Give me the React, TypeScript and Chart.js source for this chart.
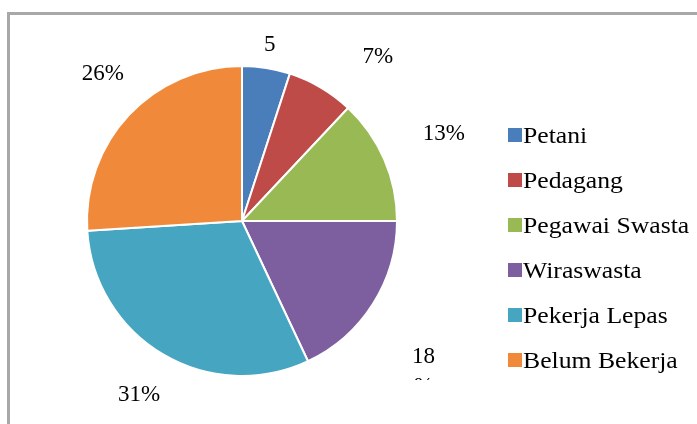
import React, { useEffect, useRef } from "react";
import { Chart, registerables } from "chart.js";

Chart.register(...registerables);

// ---- data ----
const categories = ["Petani", "Pedagang", "Pegawai Swasta", "Wiraswasta", "Pekerja Lepas", "Belum Bekerja"];
const percentages = [5, 7, 13, 18, 31, 26];

// ---- styles ----
const sliceColors = ["#4A7EBB", "#BE4B48", "#98B954", "#7D5FA0", "#46A5C0", "#F08A3A"];
// how the data label is shown: full "x%", number only (the % line hidden), or wrapped with clipped 2nd line
const labelMode = ["numOnly", "full", "full", "wrapClipped", "full", "full"];
const labelExtra = [23, 45, 65, 60, 47, 47];
const labelNudge: [number, number][] = [
  [0, 0],
  [34, 8],
  [0, 0],
  [0, 21],
  [0, 0],
  [8, -9],
];
const FONT = "'Liberation Serif', 'Times New Roman', serif";

const labelPlugin = {
  id: "sliceLabels",
  afterDatasetsDraw(chart: any) {
    const ctx = chart.ctx as CanvasRenderingContext2D;
    const meta = chart.getDatasetMeta(0);
    const clipBottom = 380;
    ctx.save();
    ctx.fillStyle = "#000";
    ctx.font = `23px ${FONT}`;
    ctx.textAlign = "center";
    ctx.textBaseline = "middle";
    meta.data.forEach((arc: any, i: number) => {
      const p = arc.getProps(["x", "y", "startAngle", "endAngle", "outerRadius"], true);
      const mid = (p.startAngle + p.endAngle) / 2;
      const d = p.outerRadius + labelExtra[i];
      const x = p.x + Math.cos(mid) * d + labelNudge[i][0];
      const y = p.y + Math.sin(mid) * d + labelNudge[i][1];
      const v = String(percentages[i]);
      const mode = labelMode[i];
      if (mode === "full") {
        ctx.fillText(v + "%", x, y);
      } else if (mode === "numOnly") {
        ctx.fillText(v, x, y);
      } else {
        ctx.fillText(v, x, y);
        ctx.save();
        ctx.beginPath();
        ctx.rect(0, 0, chart.width, clipBottom);
        ctx.clip();
        ctx.fillText("%", x, y + 30);
        ctx.restore();
      }
    });
    ctx.restore();
  },
};

const legendPlugin = {
  id: "customLegend",
  afterDraw(chart: any) {
    const ctx = chart.ctx as CanvasRenderingContext2D;
    const labels = chart.data.labels as string[];
    const colors = chart.data.datasets[0].backgroundColor as string[];
    const boxX = 508;
    const textX = 523;
    const firstBaseline = 143;
    const step = 45;
    ctx.save();
    ctx.font = `24px ${FONT}`;
    ctx.textAlign = "left";
    ctx.textBaseline = "alphabetic";
    labels.forEach((lab, i) => {
      const base = firstBaseline + i * step;
      ctx.fillStyle = colors[i];
      ctx.fillRect(boxX, base - 15, 14, 14);
      ctx.fillStyle = "#000";
      ctx.save();
      ctx.translate(textX, base);
      ctx.scale(1.07, 1);
      ctx.fillText(lab, 0, 0);
      ctx.restore();
    });
    ctx.restore();
  },
};

export default function App() {
  const canvasRef = useRef<HTMLCanvasElement | null>(null);

  useEffect(() => {
    if (!canvasRef.current) return;
    const chart = new Chart(canvasRef.current, {
      type: "pie",
      data: {
        labels: categories,
        datasets: [
          {
            data: percentages,
            backgroundColor: sliceColors,
            borderColor: "#ffffff",
            borderWidth: 2,
          },
        ],
      },
      options: {
        animation: false,
        responsive: false,
        maintainAspectRatio: false,
        layout: { padding: { left: 86, top: 65, right: 299, bottom: 47 } },
        plugins: {
          legend: { display: false },
          tooltip: { enabled: false },
        },
      },
      plugins: [labelPlugin, legendPlugin],
    });
    return () => chart.destroy();
  }, []);

  return (
    <div
      style={{
        position: "fixed",
        left: 0,
        top: 0,
        width: 697,
        height: 424,
        background: "#ffffff",
        overflow: "hidden",
      }}
    >
      <div
        style={{
          position: "absolute",
          left: 7,
          top: 12,
          width: 720,
          height: 440,
          borderLeft: "3px solid #a8a8a8",
          borderTop: "3px solid #a8a8a8",
          boxSizing: "border-box",
        }}
      />
      <canvas
        ref={canvasRef}
        width={697}
        height={424}
        style={{ position: "absolute", left: 0, top: 0, width: 697, height: 424 }}
      />
    </div>
  );
}
